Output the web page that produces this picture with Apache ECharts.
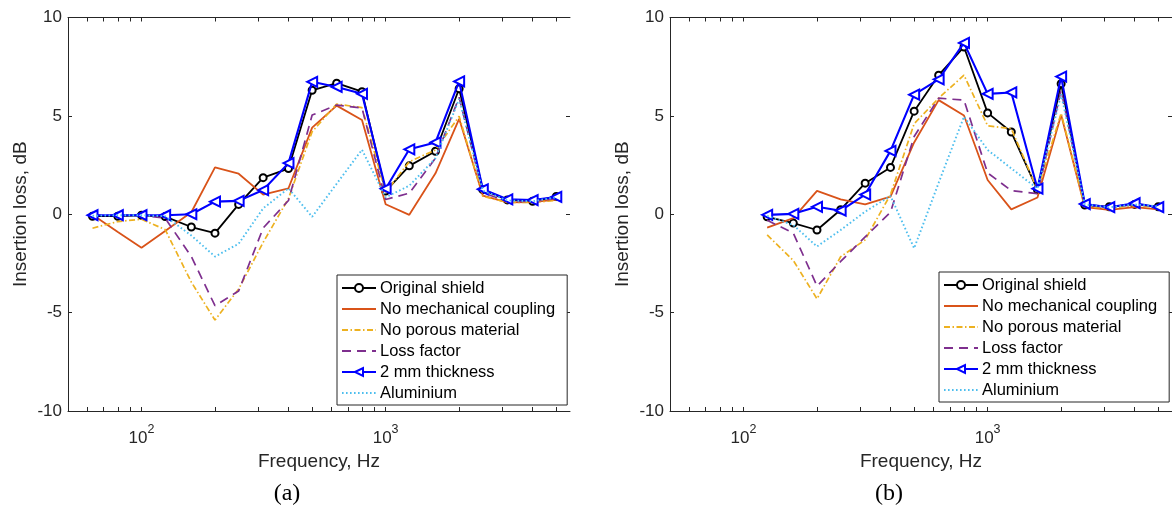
<!DOCTYPE html>
<html>
<head>
<meta charset="utf-8">
<title>Insertion loss</title>
<script src="https://cdn.jsdelivr.net/npm/echarts@6/dist/echarts.min.js"></script>
<style>
  html, body { margin: 0; padding: 0; background: #fff; }
  #chart { width: 1172px; height: 509px; }
</style>
</head>
<body>
<div id="chart"></div>
<script>
// One-third-octave band centre frequencies (Hz)
const FREQ_A = [63, 80, 100, 125, 160, 200, 250, 315, 400, 500, 630, 800, 1000, 1250, 1600, 2000, 2500, 3150, 4000, 5000];
const FREQ_B = [125, 160, 200, 250, 315, 400, 500, 630, 800, 1000, 1250, 1600, 2000, 2500, 3150, 4000, 5000];

const SERIES_NAMES = ['Original shield', 'No mechanical coupling', 'No porous material', 'Loss factor', '2 mm thickness', 'Aluminium'];

// Insertion loss (dB), panel (a)
const A_ORIGINAL  = [-0.1, -0.1, -0.05, -0.12, -0.65, -0.96, 0.5, 1.86, 2.32, 6.3, 6.66, 6.23, 1.18, 2.46, 3.2, 6.38, 1.25, 0.73, 0.66, 0.9];
const A_NO_MECH   = [-0.03, -0.9, -1.7, -0.85, 0.1, 2.38, 2.06, 1.0, 1.32, 4.4, 5.52, 4.79, 0.51, -0.03, 2.08, 4.85, 0.95, 0.6, 0.62, 0.75];
const A_NO_POROUS = [-0.71, -0.37, -0.25, -0.78, -3.45, -5.38, -3.8, -1.43, 0.8, 4.2, 5.6, 5.42, 1.12, 2.67, 3.27, 4.98, 0.92, 0.6, 0.6, 0.7];
const A_LOSS      = [-0.05, -0.05, -0.05, -0.2, -2.15, -4.65, -3.9, -0.7, 0.7, 5.04, 5.55, 5.4, 0.75, 1.07, 2.85, 5.95, 1.1, 0.65, 0.65, 0.8];
const A_THICK     = [-0.05, -0.05, -0.05, -0.05, 0.0, 0.64, 0.68, 1.23, 2.6, 6.73, 6.47, 6.12, 1.3, 3.3, 3.65, 6.75, 1.27, 0.76, 0.72, 0.88];
const A_ALU       = [-0.08, -0.05, -0.05, -0.1, -1.08, -2.15, -1.5, 0.3, 1.32, -0.13, 1.55, 3.28, 0.86, 1.45, 2.85, 5.85, 1.2, 0.7, 0.66, 0.86];

// Insertion loss (dB), panel (b)
const B_ORIGINAL  = [-0.13, -0.45, -0.8, 0.23, 1.58, 2.38, 5.24, 7.07, 8.5, 5.15, 4.18, 1.24, 6.63, 0.47, 0.38, 0.5, 0.38];
const B_NO_MECH   = [-0.68, -0.2, 1.19, 0.76, 0.5, 0.9, 3.65, 5.8, 5.02, 1.74, 0.25, 0.85, 5.05, 0.36, 0.22, 0.36, 0.25];
const B_NO_POROUS = [-1.05, -2.35, -4.3, -2.16, -1.3, 1.0, 4.6, 5.9, 7.07, 4.5, 4.35, 1.24, 5.13, 0.4, 0.3, 0.45, 0.35];
const B_LOSS      = [-0.3, -0.96, -3.65, -2.4, -1.15, 0.1, 3.95, 5.9, 5.8, 2.1, 1.2, 1.05, 6.3, 0.45, 0.35, 0.5, 0.4];
const B_THICK     = [-0.03, 0.02, 0.38, 0.18, 1.0, 3.22, 6.08, 6.86, 8.71, 6.12, 6.19, 1.3, 7.0, 0.52, 0.36, 0.56, 0.36];
const B_ALU       = [-0.08, -0.55, -1.64, -0.8, 0.13, 0.93, -1.73, 1.6, 4.96, 3.27, 2.33, 1.3, 6.1, 0.5, 0.35, 0.5, 0.4];

// Axis ticks
const Y_TICKS = [-10, -5, 0, 5, 10];
const X_MAJOR = [100, 1000];
const X_MINOR = [60, 70, 80, 90, 200, 300, 400, 500, 600, 700, 800, 900, 2000, 3000, 4000, 5000];

const FONT = '"Liberation Sans", Arial, Helvetica, sans-serif';
const AXIS_COLOR = '#262626';

// Line appearance of each case, in legend order
const STYLES = [
  { color: '#000000', width: 1.8, type: 'solid', symbol: 'emptyCircle', size: 7, rotate: 0 },
  { color: '#D95319', width: 1.8, type: 'solid', symbol: 'none' },
  { color: '#EDB120', width: 1.7, type: [6, 2.5, 1.5, 2.5], symbol: 'none' },
  { color: '#7E2F8E', width: 1.7, type: [9, 6], symbol: 'none' },
  { color: '#0000FF', width: 2.1, type: 'solid', symbol: 'emptyTriangle', size: 10, rotate: 90 },
  { color: '#4DBEEE', width: 1.9, type: [1.6, 2.4], symbol: 'none' }
];

const PANELS = [
  { freq: FREQ_A, values: [A_ORIGINAL, A_NO_MECH, A_NO_POROUS, A_LOSS, A_THICK, A_ALU] },
  { freq: FREQ_B, values: [B_ORIGINAL, B_NO_MECH, B_NO_POROUS, B_LOSS, B_THICK, B_ALU] }
];

const GRID_LEFT = [68, 670];
const GRID_TOP = 17.5;
const GRID_W = 502;
const GRID_H = 393.5;

const grids = [];
const xAxes = [];
const yAxes = [];
const series = [];

PANELS.forEach((panel, p) => {
  grids.push({ left: GRID_LEFT[p], top: GRID_TOP, width: GRID_W, height: GRID_H, containLabel: false });

  // bottom axis with labels and ticks
  xAxes.push({
    type: 'log', logBase: 10, min: 50, max: 5690, gridIndex: p, position: 'bottom',
    name: 'Frequency, Hz', nameLocation: 'middle', nameGap: 38,
    nameTextStyle: { fontFamily: FONT, fontSize: 19, color: AXIS_COLOR },
    axisLine: { show: true, onZero: false, lineStyle: { color: AXIS_COLOR, width: 1 } },
    axisTick: { show: true, inside: true, length: 4, customValues: X_MAJOR.concat(X_MINOR), lineStyle: { color: AXIS_COLOR } },
    axisLabel: {
      show: true, margin: 12, customValues: X_MAJOR, hideOverlap: false,
      formatter: v => '{b|10}{s|' + Math.round(Math.log10(v)) + '}',
      rich: {
        b: { fontFamily: FONT, fontSize: 17, color: AXIS_COLOR, verticalAlign: 'bottom', lineHeight: 24 },
        s: { fontFamily: FONT, fontSize: 12.5, color: AXIS_COLOR, verticalAlign: 'top', lineHeight: 24 }
      }
    },
    splitLine: { show: false }
  });
  // top axis: box edge with mirrored ticks
  xAxes.push({
    type: 'log', logBase: 10, min: 50, max: 5690, gridIndex: p, position: 'top',
    axisLine: { show: true, onZero: false, lineStyle: { color: AXIS_COLOR, width: 1 } },
    axisTick: { show: true, inside: true, length: 4, customValues: X_MAJOR.concat(X_MINOR), lineStyle: { color: AXIS_COLOR } },
    axisLabel: { show: false },
    splitLine: { show: false }
  });

  yAxes.push({
    type: 'value', min: -10, max: 10, interval: 5, gridIndex: p, position: 'left',
    name: 'Insertion loss, dB', nameLocation: 'middle', nameGap: 38,
    nameTextStyle: { fontFamily: FONT, fontSize: 19, color: AXIS_COLOR },
    axisLine: { show: true, onZero: false, lineStyle: { color: AXIS_COLOR, width: 1 } },
    axisTick: { show: true, inside: true, length: 4, lineStyle: { color: AXIS_COLOR } },
    axisLabel: { show: true, margin: 6, fontFamily: FONT, fontSize: 17, color: AXIS_COLOR,
                 customValues: Y_TICKS },
    splitLine: { show: false }
  });
  yAxes.push({
    type: 'value', min: -10, max: 10, interval: 5, gridIndex: p, position: 'right',
    axisLine: { show: false },
    axisTick: { show: true, inside: true, length: 4, lineStyle: { color: AXIS_COLOR } },
    axisLabel: { show: false },
    splitLine: { show: false }
  });

  panel.values.forEach((vals, k) => {
    const st = STYLES[k];
    series.push({
      type: 'line',
      name: SERIES_NAMES[k],
      xAxisIndex: p * 2,
      yAxisIndex: p * 2,
      data: panel.freq.map((f, i) => [f, vals[i]]),
      symbol: st.symbol,
      symbolSize: st.size || 0,
      symbolRotate: st.rotate || 0,
      showSymbol: st.symbol !== 'none',
      lineStyle: { color: st.color, width: st.width, type: st.type },
      itemStyle: { color: st.color, borderColor: st.color, borderWidth: 1.5 },
      emphasis: { disabled: true },
      z: 2 + k
    });
  });
});

// Legend entries: line-only cases get an invisible marker so only the line sample shows
const legendData = SERIES_NAMES.map((name, k) =>
  STYLES[k].symbol === 'none'
    ? { name: name, itemStyle: { opacity: 0 } }
    : { name: name }
);

const legendBase = {
  orient: 'vertical',
  data: legendData,
  itemWidth: 34,
  itemHeight: 10,
  itemGap: 1,
  padding: [3, 12, 2, 4],
  backgroundColor: '#ffffff',
  borderColor: AXIS_COLOR,
  borderWidth: 1,
  textStyle: { fontFamily: FONT, fontSize: 16.5, lineHeight: 20, color: '#000000', padding: [0, 0, 0, -1] },
  selectedMode: false,
  z: 10
};

const chart = echarts.init(document.getElementById('chart'), null, { renderer: 'canvas' });
chart.setOption({
  animation: false,
  backgroundColor: '#ffffff',
  grid: grids,
  xAxis: xAxes,
  yAxis: yAxes,
  series: series,
  legend: [
    Object.assign({}, legendBase, { left: 337, top: 275 }),
    Object.assign({}, legendBase, { left: 939, top: 272 })
  ],
  graphic: [
    { type: 'text', x: 287, y: 494, style: { text: '(a)', fontFamily: '"Liberation Serif", "Times New Roman", serif', fontSize: 24, fill: '#000', align: 'center', verticalAlign: 'middle' } },
    { type: 'text', x: 889, y: 494, style: { text: '(b)', fontFamily: '"Liberation Serif", "Times New Roman", serif', fontSize: 24, fill: '#000', align: 'center', verticalAlign: 'middle' } }
  ]
});
</script>
</body>
</html>
